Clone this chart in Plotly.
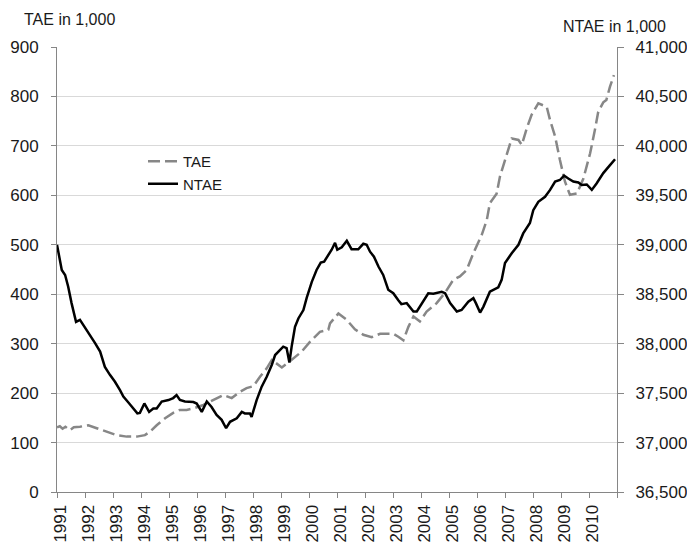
import plotly.graph_objects as go

# ---- data ----
year_labels = [str(y) for y in range(1991, 2011)]
year_ticks = list(range(1991, 2012))

tae_t = [1991.00, 1991.10, 1991.20, 1991.30, 1991.46, 1991.60, 1991.82, 1992.12, 1992.42, 1992.77,
         1993.13, 1993.49, 1993.85, 1994.14, 1994.32, 1994.56, 1994.86, 1995.15, 1995.39,
         1995.63, 1995.87, 1996.23, 1996.58, 1996.94, 1997.24, 1997.54, 1997.77, 1998.01,
         1998.25, 1998.49, 1998.67, 1998.90, 1999.03, 1999.26, 1999.50, 1999.74, 2000.04,
         2000.39, 2000.69, 2000.75, 2001.05, 2001.35, 2001.64, 2001.94, 2002.24, 2002.54,
         2002.77, 2003.01, 2003.19, 2003.37, 2003.55, 2003.73, 2003.96, 2004.20, 2004.56,
         2004.86, 2005.15, 2005.39, 2005.63, 2005.87, 2006.17, 2006.35, 2006.46, 2006.70,
         2006.82, 2007.00, 2007.24, 2007.48, 2007.60, 2007.78, 2007.95, 2008.19, 2008.49,
         2008.61, 2008.79, 2008.96, 2009.14, 2009.32, 2009.57, 2009.80, 2010.04, 2010.21,
         2010.33, 2010.51, 2010.62, 2010.75, 2010.89]
tae_vals = [131, 133, 128, 132, 125, 131, 132, 135, 129, 122,
            115, 112, 112, 115, 122, 135, 149, 160, 166,
            166, 169, 176, 186, 196, 190, 203, 210, 214,
            233, 250, 267, 257, 252, 262, 274, 284, 304,
            324, 328, 341, 361, 348, 329, 318, 313, 320,
            320, 320, 314, 307, 334, 355, 345, 365, 382,
            403, 429, 436, 449, 483, 520, 550, 584, 603,
            638, 672, 715, 712, 702, 736, 763, 786, 779,
            752, 719, 672, 628, 601, 604, 634, 685, 732,
            769, 788, 793, 820, 843]

ntae_t = [1991.00, 1991.17, 1991.29, 1991.40, 1991.52, 1991.68, 1991.82, 1991.94, 1992.18, 1992.36,
          1992.54, 1992.71, 1992.89, 1993.07, 1993.25, 1993.37, 1993.55, 1993.73, 1993.87,
          1993.96, 1994.12, 1994.29, 1994.44, 1994.56, 1994.74, 1994.98, 1995.15, 1995.27,
          1995.39, 1995.57, 1995.75, 1995.87, 1995.99, 1996.17, 1996.35, 1996.52, 1996.70,
          1996.88, 1997.04, 1997.18, 1997.42, 1997.60, 1997.71, 1997.89, 1997.95, 1998.13,
          1998.31, 1998.49, 1998.67, 1998.79, 1998.96, 1999.08, 1999.20, 1999.30, 1999.38,
          1999.50, 1999.62, 1999.80, 1999.92, 2000.10, 2000.27, 2000.42, 2000.54, 2000.69,
          2000.81, 2000.93, 2001.01, 2001.17, 2001.35, 2001.52, 2001.76, 2001.94, 2002.06,
          2002.18, 2002.32, 2002.48, 2002.65, 2002.83, 2003.01, 2003.19, 2003.30, 2003.49,
          2003.73, 2003.85, 2004.08, 2004.26, 2004.44, 2004.74, 2004.86, 2005.04, 2005.28,
          2005.45, 2005.69, 2005.87, 2005.96, 2006.11, 2006.23, 2006.46, 2006.76, 2006.88,
          2007.00, 2007.24, 2007.48, 2007.65, 2007.89, 2008.01, 2008.19, 2008.43, 2008.61,
          2008.79, 2008.96, 2009.11, 2009.26, 2009.44, 2009.62, 2009.74, 2009.92, 2010.10,
          2010.27, 2010.51, 2010.75, 2010.93]
ntae_vals = [39000, 38745, 38695, 38575, 38410, 38220, 38240, 38190, 38090, 38005,
             37920, 37765, 37685, 37615, 37530, 37465, 37405, 37345, 37295,
             37300, 37395, 37310, 37345, 37345, 37415, 37430, 37450, 37480,
             37430, 37415, 37415, 37410, 37395, 37310, 37415, 37360, 37280,
             37230, 37145, 37210, 37245, 37310, 37295, 37295, 37260, 37430,
             37565, 37665, 37785, 37885, 37935, 37970, 37955, 37810, 37970,
             38170, 38255, 38340, 38465, 38625, 38745, 38820, 38830, 38895,
             38950, 39020, 38950, 38975, 39040, 38955, 38955, 39010, 39000,
             38930, 38880, 38780, 38695, 38545, 38510, 38440, 38400, 38410,
             38325, 38325, 38425, 38510, 38505, 38525, 38510, 38410, 38325,
             38340, 38425, 38460, 38410, 38315, 38375, 38525, 38570, 38645,
             38815, 38915, 39000, 39115, 39220, 39350, 39435, 39485, 39555,
             39640, 39655, 39700, 39670, 39640, 39630, 39605, 39610, 39555,
             39620, 39725, 39805, 39865]

FONT = "Liberation Sans"
TXT = "#1a1a1a"
AXC = "#868686"
GRID = "#d9d9d9"

fig = go.Figure()
fig.add_trace(go.Scatter(x=tae_t, y=tae_vals, name="TAE", mode="lines",
                         line=dict(color="#878787", width=2.5, dash="12px,5px"),
                         yaxis="y"))
fig.add_trace(go.Scatter(x=ntae_t, y=ntae_vals, name="NTAE", mode="lines",
                         line=dict(color="#000000", width=2.5),
                         yaxis="y2"))

fig.update_layout(
    width=687, height=545,
    margin=dict(l=57, r=70, t=47, b=53, autoexpand=False),
    paper_bgcolor="white", plot_bgcolor="white",
    font=dict(family=FONT, color=TXT),
    showlegend=True,
    legend=dict(x=(143 - 57) / 560, y=(492 - 145) / 445, xanchor="left", yanchor="top",
                font=dict(size=15, family=FONT, color=TXT), bgcolor="rgba(0,0,0,0)",
                tracegroupgap=0),
    xaxis=dict(range=[1991, 2011], tickmode="array", tickvals=year_ticks,
               ticktext=year_labels + [""], tickangle=-90,
               tickfont=dict(size=17, family=FONT, color=TXT),
               showgrid=False, zeroline=False, showline=True, linecolor=AXC, linewidth=1,
               ticks="outside", ticklen=5, tickcolor=AXC, automargin=False,
               ticklabelshift=3),
    yaxis=dict(range=[0, 900], dtick=100, tickfont=dict(size=17, family=FONT, color=TXT),
               showgrid=True, gridcolor=GRID, gridwidth=1, zeroline=False,
               showline=True, linecolor=AXC, linewidth=1, ticks="outside", ticklen=5,
               tickcolor=AXC, automargin=False, ticklabelstandoff=9),
    yaxis2=dict(range=[36500, 41000], dtick=500, tickformat=",", overlaying="y", side="right",
                tickfont=dict(size=17, family=FONT, color=TXT),
                showgrid=False, zeroline=False, showline=True, linecolor=AXC, linewidth=1,
                ticks="outside", ticklen=6, tickcolor=AXC, automargin=False,
                ticklabelstandoff=8),
)

fig.add_annotation(text="TAE in 1,000", xref="paper", yref="paper",
                   x=(22 - 57) / 560, y=(492 - 20) / 445, xanchor="left", yanchor="middle",
                   showarrow=False, font=dict(size=16, family=FONT, color=TXT))
fig.add_annotation(text="NTAE in 1,000", xref="paper", yref="paper",
                   x=(668 - 57) / 560, y=(492 - 27) / 445, xanchor="right", yanchor="middle",
                   showarrow=False, font=dict(size=16, family=FONT, color=TXT))

fig.write_html("out.html", config={"displayModeBar": False},
               post_script="document.body.style.margin='0';")
